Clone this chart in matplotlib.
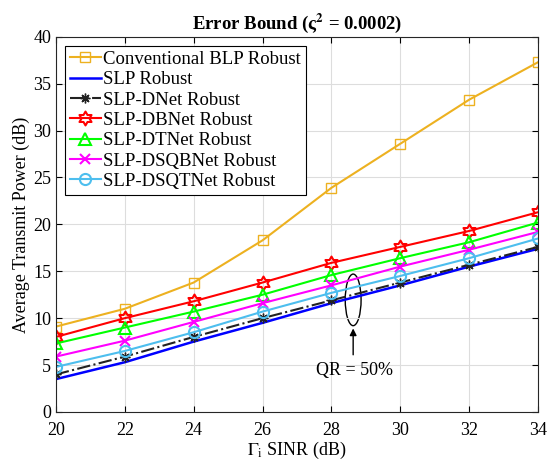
import numpy as np
import matplotlib.pyplot as plt
from matplotlib.path import Path
from matplotlib.patches import Ellipse

plt.rcParams['font.family'] = ['Liberation Serif', 'DejaVu Serif']
plt.rcParams['mathtext.fontset'] = 'stix'

sinr = [20, 22, 24, 26, 28, 30, 32, 34]
blp_robust = [9.1, 11.0, 13.8, 18.3, 23.9, 28.6, 33.3, 37.3]
slp_robust = [3.5, 5.3, 7.5, 9.5, 11.6, 13.5, 15.5, 17.4]
dnet_robust = [4.0, 5.9, 8.0, 10.0, 11.9, 13.8, 15.7, 17.6]
dbnet_robust = [8.0, 10.0, 11.8, 13.8, 15.9, 17.6, 19.3, 21.3]
dtnet_robust = [7.3, 9.0, 10.7, 12.5, 14.6, 16.4, 18.1, 20.2]
dsqbnet_robust = [5.9, 7.6, 9.6, 11.6, 13.5, 15.5, 17.3, 19.2]
dsqtnet_robust = [4.8, 6.5, 8.5, 10.7, 12.7, 14.5, 16.4, 18.5]

# six-pointed star marker (MATLAB hexagram)
ang = np.pi / 2 + np.arange(12) * np.pi / 6
rad = np.where(np.arange(12) % 2 == 0, 1.0, 1 / np.sqrt(3))
verts = np.column_stack([rad * np.cos(ang), rad * np.sin(ang)])
verts = np.vstack([verts, verts[:1]])
hexagram = Path(verts, closed=True)

fig = plt.figure(figsize=(5.48, 4.66), dpi=100)
ax = fig.add_axes([0.102, 0.116, 0.880, 0.805])

ax.plot(sinr, blp_robust, color='#EDB120', marker='s', mfc='none', ms=7, lw=1.5, label='Conventional BLP Robust')
ax.plot(sinr, slp_robust, color='#0000FF', lw=1.8, label='SLP Robust')
ax.plot(sinr, dnet_robust, color='#222222', ls='-.', marker=(8, 2, 0), ms=7, lw=1.5, label='SLP-DNet Robust')
ax.plot(sinr, dbnet_robust, color='#FF0000', marker=hexagram, mfc='none', ms=10, mew=1.5, lw=1.5, label='SLP-DBNet Robust')
ax.plot(sinr, dtnet_robust, color='#00FF00', marker='^', mfc='none', ms=9, mew=1.5, lw=1.5, label='SLP-DTNet Robust')
ax.plot(sinr, dsqbnet_robust, color='#FF00FF', marker='x', ms=7, mew=1.5, lw=1.5, label='SLP-DSQBNet Robust')
ax.plot(sinr, dsqtnet_robust, color='#4DBEEE', marker='o', mfc='none', ms=8, mew=1.5, lw=1.5, label='SLP-DSQTNet Robust')

ax.add_patch(Ellipse((28.63, 11.95), 0.46, 5.5, fill=False, ec='black', lw=1))
ax.annotate('', xy=(28.63, 9.2), xytext=(28.63, 5.8),
            arrowprops=dict(arrowstyle='-|>', color='black', lw=1))
ax.text(28.66, 4.4, 'QR = 50%', ha='center', va='center', fontsize=13)

ax.set_xlim(20, 34)
ax.set_ylim(0, 40)
ax.set_xticks(range(20, 35, 2))
ax.set_yticks(range(0, 41, 5))
ax.tick_params(direction='in', labelsize=13, top=True, right=True, length=4)
ax.tick_params(axis='x', pad=7)
ax.grid(True, color='#DDDDDD', lw=0.8)
for s in ax.spines.values():
    s.set_color('#262626')

ax.set_xlabel(r'$\Gamma_\mathrm{i}$ SINR (dB)', fontsize=13, labelpad=1)
ax.set_ylabel('Average Transmit Power (dB)', fontsize=13, labelpad=2)
ax.set_title('Error Bound (ς$^\\mathbf{2}$ = 0.0002)', fontsize=13.5, fontweight='bold', pad=6)

leg = ax.legend(loc='upper left', fontsize=13.5, fancybox=False, framealpha=1, edgecolor='black',
                borderpad=0.25, labelspacing=0.17, handlelength=1.65, handletextpad=0.12,
                borderaxespad=0.5)
leg.get_frame().set_linewidth(0.8)

fig.savefig('out.png', dpi=100)
